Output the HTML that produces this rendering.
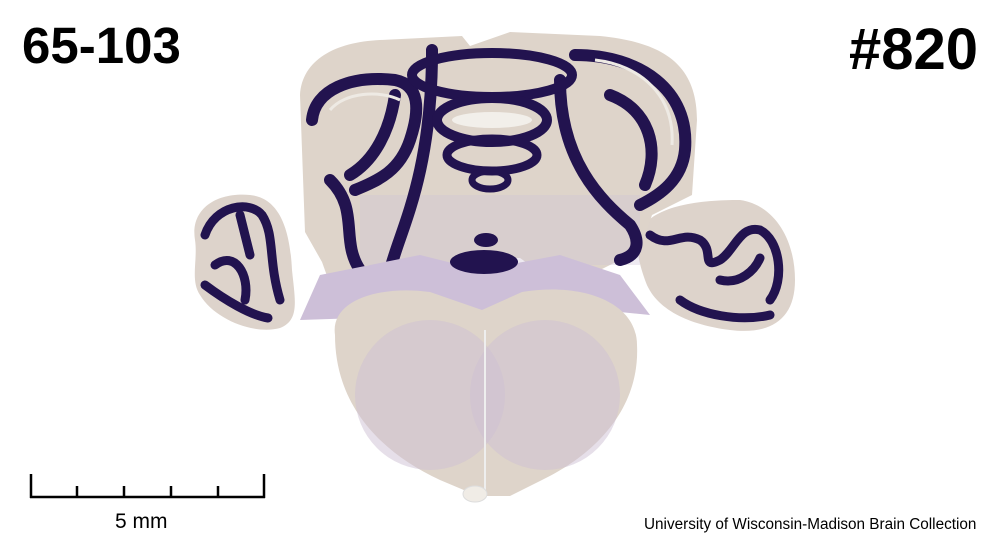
<!DOCTYPE html>
<html><head><meta charset="utf-8"><style>
html,body{margin:0;padding:0;background:#fff;}
body{width:1008px;height:560px;overflow:hidden;position:relative;font-family:"Liberation Sans",sans-serif;}
.t{position:absolute;font-weight:bold;color:#000;}
</style></head><body>
<div class="t" style="left:22px;top:16px;font-size:51px;">65-103</div>
<div class="t" style="right:30px;top:16px;font-size:58px;">#820</div>
<svg width="1008" height="560" style="position:absolute;left:0;top:0">
 <g>
  <path d="M195,240 C190,210 215,192 250,195 C280,198 290,230 292,270 C295,300 300,320 280,328 C255,335 215,320 200,295 C190,280 198,260 195,240Z" fill="#ddd3cb"/>
  <path d="M205,235 C215,205 250,200 262,215 C275,235 268,260 280,300 M215,265 C235,250 250,275 245,300 M205,285 C225,300 250,315 268,318 M240,215 L250,255" stroke="#22134f" stroke-width="9" fill="none" stroke-linecap="round"/>
 </g>
 <g>
  <path d="M640,230 C655,205 700,200 740,200 C775,205 795,240 795,280 C795,320 770,335 730,330 C690,325 655,310 645,280 C638,260 635,245 640,230Z" fill="#ddd3cb"/>
  <path d="M650,235 C670,250 680,230 700,240 C715,250 700,270 720,260 C735,250 740,225 760,230 C780,240 785,280 770,300 M680,300 C700,315 740,322 770,315 M720,280 C740,285 755,270 760,258" stroke="#22134f" stroke-width="9" fill="none" stroke-linecap="round"/>
 </g>
 <g>
  <path d="M300,95 C302,60 335,42 380,40 L462,36 L470,46 L510,32 L600,36 C660,42 697,62 697,120 L692,195 L652,215 L640,250 L600,270 L540,272 L520,258 L470,258 L420,272 L380,285 L335,298 L322,262 L305,232 Z" fill="#ded4ca"/>
  <rect x="360" y="195" width="280" height="70" fill="#cfc3d6" opacity="0.35"/>
  <path d="M312,120 C315,90 350,75 395,80 C420,85 420,110 410,140 C400,170 380,180 355,190 M330,180 C360,210 340,240 360,270 L340,290 M395,95 C390,130 375,160 350,175 M432,50 L432,60 C430,180 400,230 390,270" stroke="#22134f" stroke-width="12" fill="none" stroke-linecap="round"/>
  <path d="M575,55 C640,55 690,90 685,150 C682,180 660,195 640,205 M610,95 C650,110 660,150 645,185 M560,80 C560,160 600,200 630,225 C640,240 640,255 620,260" stroke="#22134f" stroke-width="12" fill="none" stroke-linecap="round"/>
  <path d="M330,110 C345,92 380,90 400,100 M595,60 C640,65 675,95 672,145" stroke="#eeeae4" stroke-width="3" fill="none"/>
  <ellipse cx="492" cy="75" rx="80" ry="22" fill="none" stroke="#22134f" stroke-width="10"/>
  <ellipse cx="492" cy="120" rx="55" ry="22" fill="none" stroke="#22134f" stroke-width="10"/>
  <ellipse cx="492" cy="120" rx="40" ry="8" fill="#f2efea"/>
  <ellipse cx="492" cy="155" rx="45" ry="16" fill="none" stroke="#22134f" stroke-width="9"/>
  <ellipse cx="490" cy="180" rx="18" ry="9" fill="none" stroke="#22134f" stroke-width="7"/>
 </g>
 <g>
  <path d="M300,320 L320,275 L420,255 L480,270 L560,255 L620,275 L650,315 L600,310 Z" fill="#cdbfd8"/>
  <path d="M335,335 C330,300 380,285 430,292 L482,310 L522,292 C582,282 637,302 637,345 C640,405 600,452 542,480 L510,496 L478,496 L440,480 C380,452 335,405 335,335Z" fill="#ded4ca"/>
  <ellipse cx="430" cy="395" rx="75" ry="75" fill="#cdc0d3" opacity="0.5"/>
  <ellipse cx="545" cy="395" rx="75" ry="75" fill="#cdc0d3" opacity="0.5"/>
  <line x1="485" y1="330" x2="485" y2="490" stroke="#eee" stroke-width="2"/>
  <ellipse cx="484" cy="262" rx="34" ry="12" fill="#22134f"/>
  <ellipse cx="486" cy="240" rx="12" ry="7" fill="#22134f"/>
  <ellipse cx="475" cy="494" rx="12" ry="8" fill="#f0ece6" stroke="#ddd"/>
 </g>
 <g stroke="#000" stroke-width="2.5">
  <line x1="30" y1="497" x2="265" y2="497"/>
  <line x1="31" y1="474" x2="31" y2="498"/>
  <line x1="264" y1="474" x2="264" y2="498"/>
  <line x1="77" y1="486" x2="77" y2="497"/>
  <line x1="124" y1="486" x2="124" y2="497"/>
  <line x1="171" y1="486" x2="171" y2="497"/>
  <line x1="218" y1="486" x2="218" y2="497"/>
 </g>
</svg>
<div class="t" style="left:115px;top:510px;font-size:21px;font-weight:normal;">5 mm</div>
<div class="t" style="left:644px;top:516px;font-size:15.3px;font-weight:normal;">University of Wisconsin-Madison Brain Collection</div>
</body></html>
